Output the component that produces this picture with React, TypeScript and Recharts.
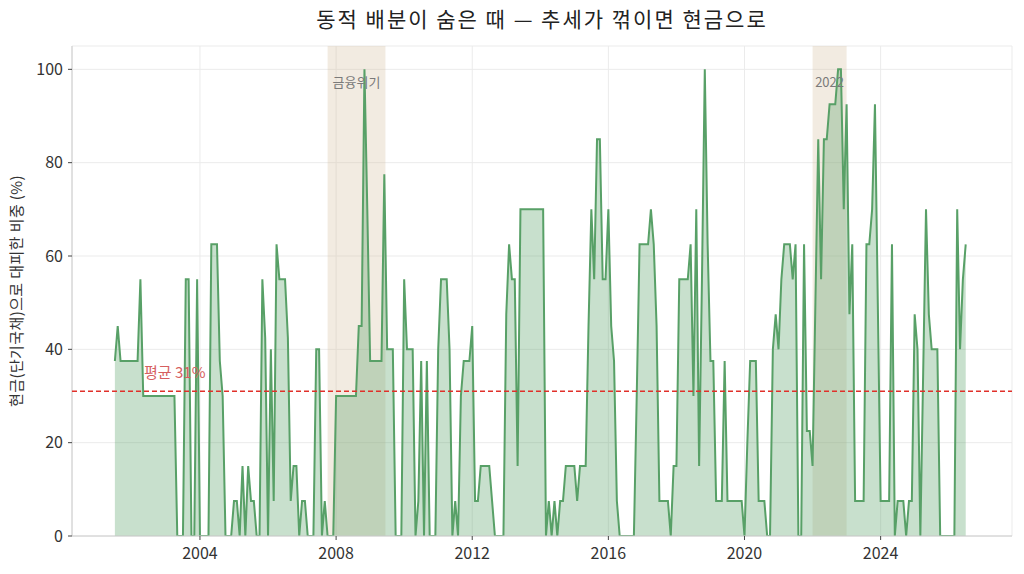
import {
  AreaChart,
  Area,
  XAxis,
  YAxis,
  CartesianGrid,
  ReferenceArea,
  ReferenceLine,
} from "recharts";

// 월별 현금(단기국채) 비중, 2001-07 부터 (한 줄 = 12개월)
const cashPct: number[] = [
  37.5, 45, 37.5, 37.5, 37.5, 37.5, 37.5, 37.5, 37.5, 55, 30, 30,
  30, 30, 30, 30, 30, 30, 30, 30, 30, 30, 0, 0,
  0, 55, 55, 0, 0, 55, 0, 0, 0, 0, 62.5, 62.5,
  62.5, 37.5, 30, 0, 0, 0, 7.5, 7.5, 0, 15, 0, 15,
  7.5, 7.5, 0, 0, 55, 42.5, 0, 40, 7.5, 62.5, 55, 55,
  55, 42.5, 7.5, 15, 15, 0, 7.5, 7.5, 0, 0, 0, 40,
  40, 0, 7.5, 0, 0, 0, 30, 30, 30, 30, 30, 30,
  30, 30, 45, 45, 100, 70, 37.5, 37.5, 37.5, 37.5, 37.5, 77.5,
  40, 40, 40, 0, 0, 0, 55, 40, 40, 40, 0, 7.5,
  37.5, 0, 37.5, 0, 0, 0, 40, 55, 55, 55, 40, 0,
  7.5, 0, 30, 37.5, 37.5, 37.5, 45, 7.5, 7.5, 15, 15, 15,
  15, 7.5, 0, 0, 0, 0, 47.5, 62.5, 55, 55, 15, 70,
  70, 70, 70, 70, 70, 70, 70, 70, 0, 7.5, 0, 7.5,
  0, 7.5, 7.5, 15, 15, 15, 15, 7.5, 15, 15, 15, 45,
  70, 55, 85, 85, 55, 55, 70, 45, 37.5, 7.5, 0, 0,
  0, 0, 0, 0, 30, 62.5, 62.5, 62.5, 62.5, 70, 62.5, 45,
  7.5, 7.5, 7.5, 7.5, 0, 15, 15, 55, 55, 55, 55, 62.5,
  30, 70, 15, 55, 100, 62.5, 37.5, 37.5, 7.5, 7.5, 7.5, 37.5,
  7.5, 7.5, 7.5, 7.5, 7.5, 7.5, 0, 20, 37.5, 37.5, 37.5, 7.5,
  7.5, 7.5, 0, 0, 40, 47.5, 40, 55, 62.5, 62.5, 62.5, 55,
  62.5, 0, 0, 62.5, 22.5, 22.5, 15, 50, 85, 55, 85, 85,
  92.5, 92.5, 92.5, 100, 100, 70, 92.5, 47.5, 62.5, 7.5, 7.5, 7.5,
  7.5, 62.5, 62.5, 70, 92.5, 50, 7.5, 7.5, 7.5, 7.5, 62.5, 0,
  7.5, 7.5, 7.5, 0, 7.5, 7.5, 47.5, 40, 0, 35, 70, 47.5,
  40, 40, 40, 0, 0, 0, 0, 0, 0, 70, 40, 55,
  62.5,
];

const startYear = 2001 + 6 / 12;
const avgPct = 31;

const xTicks = [2004, 2008, 2012, 2016, 2020, 2024];
const yTicks = [0, 20, 40, 60, 80, 100];

const crisisLabels = ["금융위기", "2022"];
const crisisStart = [2007.75, 2022.0];
const crisisEnd = [2009.45, 2023.0];

const data = cashPct.map((v, i) => ({ t: startYear + i / 12, v }));

const FONT = "'Noto Sans CJK KR', 'Noto Sans', sans-serif";
const GREEN = "#58a067";

export default function App() {
  return (
    <div
      style={{
        position: "absolute",
        left: 0,
        top: 0,
        width: 1024,
        height: 574,
        background: "#fff",
        fontFamily: FONT,
      }}
    >
      <div
        style={{
          position: "absolute",
          left: 72,
          top: 3,
          width: 940,
          lineHeight: "30px",
          textAlign: "center",
          fontSize: 21,
          letterSpacing: 2,
          color: "#222",
        }}
      >
        동적 배분이 숨은 때 — 추세가 꺾이면 현금으로
      </div>
      <AreaChart
        width={1024}
        height={574}
        data={data}
        margin={{ top: 46, right: 12, bottom: 0, left: 0 }}
        style={{ fontFamily: FONT }}
      >
        <CartesianGrid stroke="#ebebeb" strokeWidth={1} />
        {crisisLabels.map((name, i) => (
          <ReferenceArea
            key={name}
            x1={crisisStart[i]}
            x2={crisisEnd[i]}
            fill="#d4bd9a"
            fillOpacity={0.3}
            stroke="none"
            ifOverflow="visible"
            label={{
              value: name,
              position: "insideTop",
              offset: 32,
              fill: "#7a7a7a",
              fontSize: 13,
            }}
          />
        ))}
        <XAxis
          dataKey="t"
          type="number"
          domain={[2000.24, 2027.86]}
          ticks={xTicks}
          allowDataOverflow
          height={38}
          stroke="#cccccc"
          tickLine={{ stroke: "#444" }}
          tickSize={4}
          tickMargin={8}
          tick={{ fill: "#333", fontSize: 16 }}
        />
        <YAxis
          type="number"
          domain={[0, 105]}
          ticks={yTicks}
          allowDataOverflow
          width={72}
          stroke="#cccccc"
          tickLine={{ stroke: "#444" }}
          tickSize={4}
          tickMargin={5}
          tick={{ fill: "#333", fontSize: 16 }}
          label={() => (
            <text
              x={18}
              y={291}
              transform="rotate(-90 18 291)"
              textAnchor="middle"
              dominantBaseline="middle"
              fill="#333"
              fontSize={15}
              letterSpacing={0.4}
            >
              현금(단기국채)으로 대피한 비중 (%)
            </text>
          )}
        />
        <Area
          type="linear"
          dataKey="v"
          stroke={GREEN}
          strokeWidth={2}
          fill={GREEN}
          fillOpacity={0.33}
          dot={false}
          activeDot={false}
          isAnimationActive={false}
        />
        <ReferenceLine
          y={avgPct}
          stroke="#e0302a"
          strokeWidth={1.5}
          strokeDasharray="5 3"
          zIndex={1000}
          label={(p: any) => (
            <text
              x={(p.viewBox?.x ?? 72) + 72}
              y={(p.viewBox?.y ?? 391) - 13}
              fill="#d65f5f"
              fontSize={15}
            >
              평균 {avgPct}%
            </text>
          )}
        />
      </AreaChart>
    </div>
  );
}
